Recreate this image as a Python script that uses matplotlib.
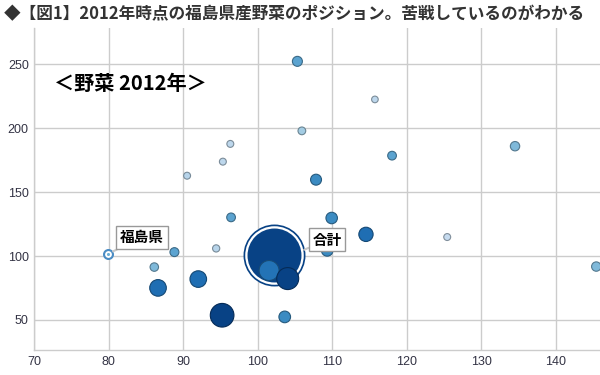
import matplotlib
matplotlib.use("Agg")
import matplotlib.pyplot as plt
import numpy as np
from matplotlib import cm, colors as mcolors

plt.rcParams['font.family'] = ['Noto Sans CJK JP', 'DejaVu Sans']

# ---- data ----
title = "◆【図1】2012年時点の福島県産野菜のポジション。苦戦しているのがわかる"
panel_label = "＜野菜 2012年＞"

x_vals = [105.3, 115.7, 105.9, 134.5, 118.0, 96.3, 95.3, 90.5, 107.8, 96.4, 109.9,
          114.5, 125.4, 145.4, 109.3, 88.8, 94.4, 86.1, 86.6, 92.0, 95.2, 101.5,
          104.0, 103.6]
y_vals = [252.4, 222.6, 198.0, 186.0, 178.6, 187.8, 173.9, 162.9, 159.8, 130.3, 129.8,
          117.0, 114.9, 91.8, 104.5, 103.1, 106.0, 91.4, 75.1, 82.0, 53.7, 88.7,
          82.4, 52.4]
volume = [25, 11, 15, 22, 19, 12, 12, 12, 30, 19, 33,
          51, 12, 22, 34, 20, 13, 18, 69, 69, 140, 100,
          121, 34]
shade = [0.55, 0.28, 0.36, 0.45, 0.55, 0.28, 0.28, 0.30, 0.65, 0.55, 0.65,
         0.76, 0.25, 0.45, 0.65, 0.55, 0.30, 0.45, 0.76, 0.76, 0.93, 0.74,
         0.93, 0.65]

total_x, total_y, total_volume, total_shade = 102.2, 101.0, 729, 0.93
fukushima_x, fukushima_y, fukushima_volume = 79.9, 101.8, 20

x_ticks = [70, 80, 90, 100, 110, 120, 130, 140]
y_ticks = [50, 100, 150, 200, 250]

# ---- figure ----
fig = plt.figure(figsize=(6, 3.75), dpi=100)
ax = fig.add_axes([34.3/600, 25/375, 1 - 34.3/600, (350-28)/375])
ax.set_xlim(70, 145.9)
ax.set_ylim(26.5, 278.5)

ax.set_xticks(x_ticks)
ax.set_yticks(y_ticks)
ax.grid(True, color='#cccccc', lw=1)
ax.set_axisbelow(True)
for s in ['top', 'right']:
    ax.spines[s].set_visible(False)
for s in ['left', 'bottom']:
    ax.spines[s].set_color('#cccccc')
    ax.spines[s].set_linewidth(1)
ax.tick_params(length=0, pad=4, labelsize=9, labelcolor='#333344')
for lbl in ax.get_xticklabels() + ax.get_yticklabels():
    lbl.set_fontfamily(['Liberation Sans', 'DejaVu Sans'])

cmap = plt.get_cmap('Blues')
k = 2.07  # px^2 -> pt^2 scale for radius-squared volume units

def darker(c, f=0.6):
    r, g, b, a = mcolors.to_rgba(c)
    return (r*f, g*f, b*f, 1)

# total bubble: dark outer ring, white ring, dark fill
tc = cmap(total_shade)
ax.scatter([total_x], [total_y], s=[k*31**2], color=tc, zorder=2, lw=0)
ax.scatter([total_x], [total_y], s=[k*29.3**2], color='white', zorder=2, lw=0)
ax.scatter([total_x], [total_y], s=[k*total_volume], color=tc, zorder=2, lw=0)

# other bubbles
fc = [cmap(v) for v in shade]
ec = [darker(c, 0.65) for c in fc]
ax.scatter(x_vals, y_vals, s=[k*v for v in volume], c=fc, edgecolors=ec,
           linewidths=0.8, zorder=3)

# Fukushima marker
ax.scatter([fukushima_x], [fukushima_y], s=[k*fukushima_volume], facecolor='white',
           edgecolor='#4a8cc4', linewidths=1.5, zorder=4)
ax.scatter([fukushima_x], [fukushima_y], s=[5], color='#6baed6', lw=0, zorder=5)

box = dict(boxstyle='square,pad=0.25', fc='white', ec='#999999', lw=1)
ax.annotate("福島県", xy=(fukushima_x, fukushima_y), xytext=(84.45, 114.7),
            ha='center', va='center', fontsize=10.5, fontweight='bold', color='black',
            bbox=box, zorder=6,
            arrowprops=dict(arrowstyle='-', color='#c8c8c8', lw=1.5, shrinkA=0, shrinkB=4))
ax.annotate("合計", xy=(106.2, 104.9), xytext=(109.3, 112.8),
            ha='center', va='center', fontsize=10.5, fontweight='bold', color='black',
            bbox=box, zorder=6,
            arrowprops=dict(arrowstyle='-', color='#c8c8c8', lw=1.5, shrinkA=0, shrinkB=0))

fig.text(54/600, 1 - 83/375, panel_label, fontsize=14.5, fontweight='bold',
         color='black', ha='left', va='center')
fig.text(4/600, 1 - 14/375, title, fontsize=12, fontweight='bold', color='#333333',
         ha='left', va='center')

fig.savefig('out.png', dpi=100)
